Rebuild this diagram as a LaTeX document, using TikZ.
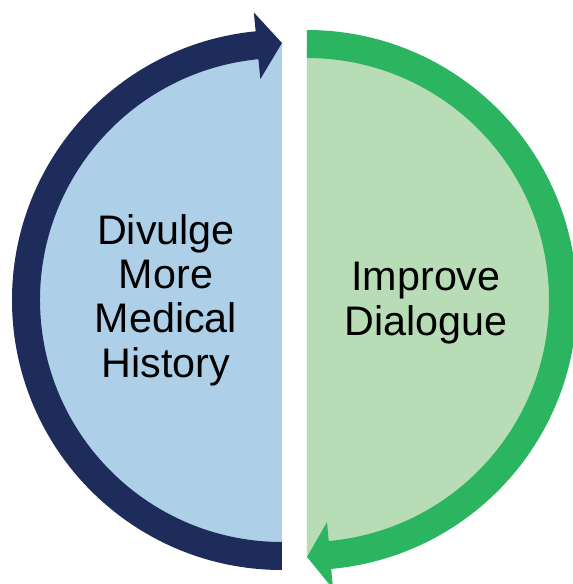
\documentclass[tikz,border=0pt]{standalone}
\usepackage{fontspec}
\setmainfont{Liberation Sans}
\usepackage{xcolor}
\definecolor{navy}{HTML}{1D2C5A}
\definecolor{paleblue}{HTML}{ADD0E8}
\definecolor{leafgreen}{HTML}{2BB560}
\definecolor{palegreen}{HTML}{B8DDB6}

\begin{document}
\begin{tikzpicture}
\tikzset{label/.style = {align=center,
		font=\fontsize{23.5}{25.2}\selectfont}}
\tikzset{band/.style = {draw=none}}
\useasboundingbox (-5.89,-5.68) rectangle (5.57,6.0);
% centres of the two halves
\coordinate (lc) at (-0.25,0);
\coordinate (rc) at (0.25,0);

% left half with its arrow
\begin{scope}[shift={(lc)}]
\fill[paleblue] (-90:5.14) arc[start angle=270, end angle=90, radius=5.14] -- cycle;
\fill[navy,band] (-90:5.4) arc[start angle=270, end angle=95.6, radius=5.4]
	-- (95.6:5.78) -- (90:5.14) -- (95.6:4.44) -- (95.6:4.84)
	arc[start angle=95.6, end angle=270, radius=4.84] -- cycle;
\end{scope}

% right half with its arrow
\begin{scope}[shift={(rc)}]
\fill[palegreen] (90:5.14) arc[start angle=90, end angle=-90, radius=5.14] -- cycle;
\fill[leafgreen,band] (90:5.4) arc[start angle=90, end angle=-84.85, radius=5.4]
	-- (-84.85:5.8) -- (-90:5.14) -- (-84.85:4.46) -- (-84.85:4.84)
	arc[start angle=-84.85, end angle=90, radius=4.84] -- cycle;
\end{scope}

% labels
\node[label] (divulge) at (-2.57,0) {Divulge\\More\\Medical\\History};
\node[label] (improve) at (2.63,-0.06) {Improve\\Dialogue};
\end{tikzpicture}
\end{document}
